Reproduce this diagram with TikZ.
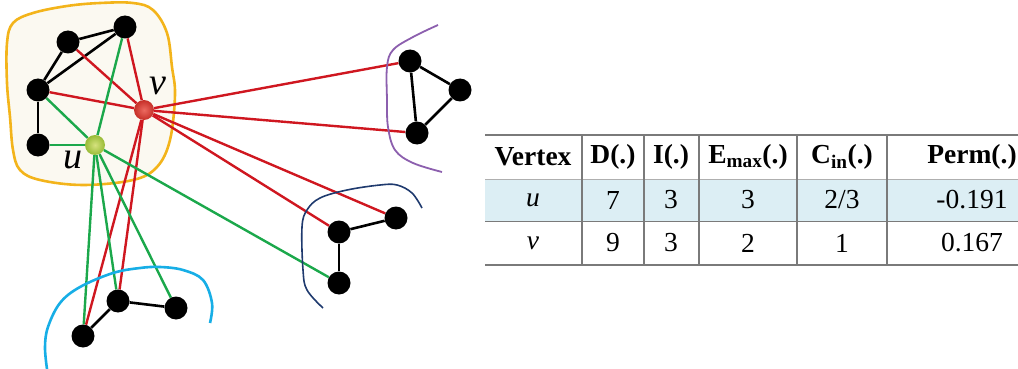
\documentclass[tikz,border=0pt]{standalone}
\usepackage{fontspec}
\setmainfont{Liberation Serif}[BoldFont={Liberation Serif Bold},ItalicFont={Liberation Serif Italic}]
\pgfdeclarelayer{blob}
\pgfdeclarelayer{edges}
\pgfsetlayers{blob,edges,main}
\definecolor{edgered}{HTML}{CF1720}
\definecolor{edgegreen}{HTML}{1BA84B}
\definecolor{blobline}{HTML}{F3B41B}
\definecolor{blobfill}{HTML}{FBF9F1}
\definecolor{grpurple}{HTML}{8C5FAE}
\definecolor{grnavy}{HTML}{1F3A6E}
\definecolor{grcyan}{HTML}{17AEE6}
\definecolor{ulight}{HTML}{D6E27E}
\definecolor{udark}{HTML}{98BB36}
\definecolor{vlight}{HTML}{EC6A60}
\definecolor{vdark}{HTML}{C62F28}
\definecolor{rowblue}{HTML}{DCEEF4}
\definecolor{tgray}{HTML}{7A7A7A}
\begin{document}
\begin{tikzpicture}[x=1pt,y=-1pt,
    dot/.style={circle,fill=black,inner sep=0pt,minimum size=23pt},
    ball/.style={circle,inner sep=0pt,minimum size=20pt},
    redge/.style={draw=edgered,line width=2.4pt},
    gedge/.style={draw=edgegreen,line width=2.4pt},
    bedge/.style={draw=black,line width=2.6pt},
    lbl/.style={inner sep=0pt,font=\fontsize{38}{42}\selectfont\itshape},
    cell/.style={inner sep=0pt,font=\fontsize{27.5}{32}\selectfont},
    hcell/.style={cell,font=\fontsize{27.5}{32}\selectfont\bfseries}]
    \useasboundingbox (0,0) rectangle (1018,369);
    \clip (0,0) rectangle (1018,369);

    % graph vertices
    \node[dot](CA) at (68,42) {};
    \node[dot](CB) at (125,27) {};
    \node[dot](CC) at (38,90) {};
    \node[dot](CD) at (38,145) {};
    \node[ball,inner color=ulight,outer color=udark](U) at (95,145) {};
    \node[ball,inner color=vlight,outer color=vdark](V) at (144,110) {};
    \node[dot](PA) at (410,61) {};
    \node[dot](PB) at (460,90) {};
    \node[dot](PC) at (417,133) {};
    \node[dot](NA) at (396,218) {};
    \node[dot](NB) at (339,232) {};
    \node[dot](NC) at (339,283) {};
    \node[dot](LA) at (83,336) {};
    \node[dot](LB) at (118,301) {};
    \node[dot](LC) at (176,308) {};
    \node[lbl](ULBL) at (73,160) {u};
    \node[lbl](VLBL) at (158,86) {v};

    % community borders
    \begin{pgfonlayer}{blob}
        \draw[blobline,fill=blobfill,line width=2.6pt] plot[smooth cycle,tension=0.6] coordinates {(7,43) (13,23) (33,13) (67,6) (100,3) (133,3) (153,10) (167,33) (172,67) (175,95) (170,140) (157,167) (133,180) (83,185) (40,180) (20,170) (13,150) (10,117) (7,83)};
    \end{pgfonlayer}
    \draw[grpurple,line width=1.8pt] plot[smooth,tension=0.6] coordinates {(438,25) (413,37) (393,50) (387,67) (387,100) (388,127) (395,150) (413,163) (442,172)};
    \draw[grnavy,line width=1.6pt] plot[smooth,tension=0.6] coordinates {(422,208) (412,193) (397,185) (380,185) (347,190) (320,198) (307,210) (302,227) (303,270) (307,290) (323,308)};
    \draw[grcyan,line width=2.6pt] plot[smooth,tension=0.6] coordinates {(210,323) (212,303) (203,280) (183,270) (160,267) (140,268) (113,273) (80,287) (60,303) (48,327) (45,347) (47,369)};

    % connectors
    \begin{pgfonlayer}{edges}
        \draw[bedge] (CA) -- (CB);
        \draw[bedge] (CA) -- (CC);
        \draw[bedge] (CC) -- (CB);
        \draw[bedge] (CC) -- (CD);
        \draw[bedge] (PA) -- (PB);
        \draw[bedge] (PB) -- (PC);
        \draw[bedge] (PA) -- (PC);
        \draw[bedge] (NA) -- (NB);
        \draw[bedge] (NB) -- (NC);
        \draw[bedge] (LA) -- (LB);
        \draw[bedge] (LB) -- (LC);
        \draw[redge] (V) -- (CA);
        \draw[redge] (V) -- (CB);
        \draw[redge] (V) -- (CC);
        \draw[redge] (V) -- (PA);
        \draw[redge] (V) -- (PC);
        \draw[redge] (V) -- (NA);
        \draw[redge] (V) -- (NB);
        \draw[redge] (V) -- (LA);
        \draw[redge] (V) -- (LB);
        \draw[gedge] (U) -- (CB);
        \draw[gedge] (U) -- (CC);
        \draw[gedge] (U) -- (CD);
        \draw[gedge] (U) -- (NC);
        \draw[gedge] (U) -- (LA);
        \draw[gedge] (U) -- (LB);
        \draw[gedge] (U) -- (LC);
    \end{pgfonlayer}

    % table
    \fill[rowblue] (485,179) rectangle (1060,221);
    \draw[tgray,line width=1.8pt] (485,135) -- (1060,135);
    \draw[tgray!60,line width=0.6pt] (485,179) -- (1060,179);
    \draw[tgray,line width=1pt] (485,221) -- (1060,221);
    \draw[tgray,line width=1.8pt] (485,265) -- (1060,265);
    \foreach \cx in {582,644,699,797,887}
        \draw[tgray,line width=1.4pt] (\cx,135) -- (\cx,265);

    \node[hcell](H1) at (533,157) {Vertex};
    \node[hcell](H2) at (613,157) {D(.)};
    \node[hcell](H3) at (671,157) {I(.)};
    \node[hcell](H4) at (748,157) {E\textsubscript{max}(.)};
    \node[hcell](H5) at (842,157) {C\textsubscript{in}(.)};
    \node[hcell](H6) at (972,157) {Perm(.)};
    \node[cell](U1) at (533,200) {\itshape u};
    \node[cell](U2) at (613,200) {7};
    \node[cell](U3) at (671,200) {3};
    \node[cell](U4) at (748,200) {3};
    \node[cell](U5) at (842,200) {2/3};
    \node[cell](U6) at (972,200) {-0.191};
    \node[cell](V1) at (533,243) {\itshape v};
    \node[cell](V2) at (613,243) {9};
    \node[cell](V3) at (671,243) {3};
    \node[cell](V4) at (748,243) {2};
    \node[cell](V5) at (842,243) {1};
    \node[cell](V6) at (972,243) {0.167};
\end{tikzpicture}
\end{document}
